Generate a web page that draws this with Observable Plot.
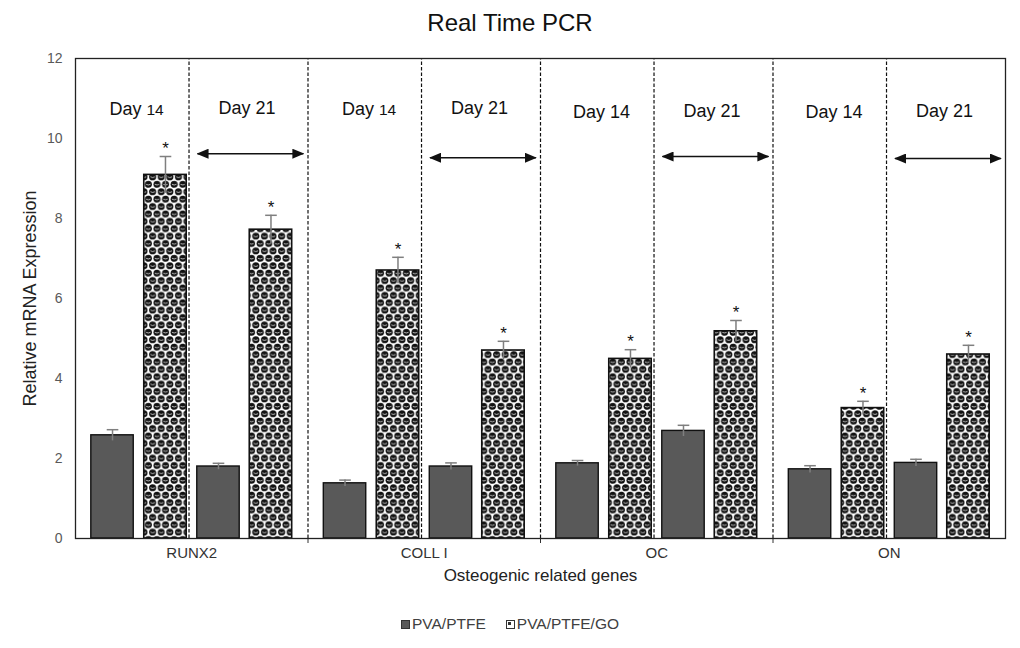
<!DOCTYPE html>
<html>
<head>
<meta charset="utf-8">
<script src="https://cdn.jsdelivr.net/npm/d3@7"></script>
<script src="https://cdn.jsdelivr.net/npm/@observablehq/plot@0.6"></script>
<style>
  html, body { margin: 0; padding: 0; background: white; }
  body { width: 1020px; height: 648px; overflow: hidden; font-family: "Liberation Sans", Arial, sans-serif; }
  #title { height: 37px; padding-top: 3px; line-height: 40px; text-align: center; font-size: 24px; color: #111; }
  #legend { height: 48px; display: flex; justify-content: center; align-items: center; gap: 20px; font-size: 15.5px; color: #404040; padding-left: 0px; }
  #legend span { display: inline-flex; align-items: center; }
  #legend i { display: inline-block; width: 9px; height: 9px; margin-right: 2px; box-sizing: border-box; }
  #legend i.pva { background: #595959; border: 1px solid #333; }
  #legend i.go { background: white; border: 1.5px solid #333; position: relative; }
  #legend i.go::after { content: ""; position: absolute; left: 1.5px; top: 1.5px; width: 3px; height: 3px; background: #333; }
  svg { display: block; }
</style>
</head>
<body>
<div id="title">Real Time PCR</div>
<div id="chart"></div>
<div id="legend"></div>
<script>
// ---- data ----
const genes = ["RUNX2", "COLL I", "OC", "ON"];
const series = ["PVA/PTFE", "PVA/PTFE/GO"];
const days = ["Day 14", "Day 21"];
const pva14 = [2.58, 1.38, 1.88, 1.73];
const pva14Err = [0.14, 0.08, 0.07, 0.09];
const go14 = [9.09, 6.70, 4.49, 3.26];
const go14Err = [0.46, 0.33, 0.23, 0.17];
const pva21 = [1.80, 1.80, 2.69, 1.89];
const pva21Err = [0.08, 0.09, 0.14, 0.09];
const go21 = [7.72, 4.70, 5.18, 4.60];
const go21Err = [0.36, 0.23, 0.27, 0.23];
const arrowLevel = [9.62, 9.52, 9.55, 9.50];
const dayLabelLevel = [10.72, 10.72, 10.66, 10.66];
const yTicks = [0, 2, 4, 6, 8, 10, 12];

// ---- layout in x units (each gene spans 4 units) ----
const G = 4;
const slot = [0.637, 1.548, 2.46, 3.363];
const BW = 0.73;
const CAP = 0.1;

const bars = [];
genes.forEach((gene, i) => {
  [[pva14, pva14Err, 0, 0], [go14, go14Err, 1, 0], [pva21, pva21Err, 0, 1], [go21, go21Err, 1, 1]].forEach(([v, e, s, d], k) => {
    const c = i * G + slot[k];
    bars.push({gene, series: series[s], day: days[d], value: v[i], err: e[i], xc: c, x1: c - BW / 2, x2: c + BW / 2});
  });
});
const pvaBars = bars.filter(d => d.series === series[0]);
const goBars = bars.filter(d => d.series === series[1]);

const boundaries = genes.slice(1).map((g, i) => (i + 1) * G);
const midLines = genes.map((g, i) => i * G + 1.953);
const arrows = genes.map((g, i) => ({gene: g, x1: i * G + 2.1, x2: i * G + 3.92, y: arrowLevel[i]}));
const dayLabels = [];
genes.forEach((g, i) => {
  dayLabels.push({gene: g, text: days[0], x: i * G + 1.05, y: dayLabelLevel[i], smallNum: i < 2});
  dayLabels.push({gene: g, text: days[1], x: i * G + 2.95, y: dayLabelLevel[i] + 0.03, smallNum: false});
});

const plot = Plot.plot({
  width: 1020,
  height: 560,
  marginLeft: 75,
  marginRight: 15,
  marginTop: 18,
  marginBottom: 62,
  style: {fontFamily: "'Liberation Sans', Arial, sans-serif", fontSize: "14px", background: "white", color: "#333"},
  x: {domain: [0, genes.length * G], ticks: boundaries, tickFormat: () => "", tickSize: 5, label: null},
  y: {domain: [0, 12], ticks: yTicks, tickSize: 0, tickPadding: 13, label: null},
  marks: [
    Plot.ruleX(boundaries.concat(midLines), {y1: 0, y2: 12, stroke: "#111", strokeWidth: 1.2, strokeDasharray: "3.5,2"}),
    Plot.rectY(pvaBars, {x1: "x1", x2: "x2", y: "value", fill: "#595959", stroke: "#111", strokeWidth: 1.4, ariaDescription: "pva-bars"}),
    Plot.rectY(goBars, {x1: "x1", x2: "x2", y: "value", fill: "white", stroke: "#111", strokeWidth: 1.6, ariaDescription: "go-bars"}),
    Plot.ruleX(bars, {x: "xc", y1: d => d.value - d.err, y2: d => d.value + d.err, stroke: "#7f7f7f", strokeWidth: 1.5}),
    Plot.link(bars, {x1: d => d.xc - CAP, x2: d => d.xc + CAP, y1: d => d.value + d.err, y2: d => d.value + d.err, stroke: "#7f7f7f", strokeWidth: 1.5}),
    Plot.text(goBars, {x: "xc", y: d => d.value + d.err, text: () => "*", dy: -8, fontSize: 17, fill: "#111"}),
    Plot.link(arrows, {x1: "x1", x2: "x2", y1: "y", y2: "y", stroke: "#111", strokeWidth: 1.6, ariaDescription: "arrows"}),
    Plot.text(dayLabels, {x: "x", y: "y", text: "text", fontSize: 18, fill: "#111", ariaDescription: "day-labels"}),
    Plot.frame({stroke: "#222", strokeWidth: 1.3}),
    Plot.text(genes, {x: (d, i) => i * G + 2, frameAnchor: "bottom", dy: 19, text: d => d, fontSize: 15, fill: "#333"}),
    Plot.text(["Osteogenic related genes"], {frameAnchor: "bottom", dy: 42, text: d => d, fontSize: 17, fill: "#222"}),
    Plot.text(["Relative mRNA Expression"], {frameAnchor: "left", dx: -45, rotate: -90, textAnchor: "middle", text: d => d, fontSize: 18, fill: "#222"})
  ]
});

document.getElementById("chart").appendChild(plot);

const root = plot.tagName.toLowerCase() === "svg" ? plot : plot.querySelector("svg");
const svg = d3.select(root);
const defs = svg.insert("defs", ":first-child");
// "sphere" pattern: staggered black balls with a white highlight
const W = 8.6, H = 14.8;
const pat = defs.append("pattern").attr("id", "sphere").attr("patternUnits", "userSpaceOnUse")
  .attr("width", W).attr("height", H);
pat.append("rect").attr("width", W).attr("height", H).attr("fill", "white");
const balls = [[3 * W / 4, H / 4], [-W / 4, H / 4], [W / 4, 3 * H / 4], [W + W / 4, 3 * H / 4]];
balls.forEach(([cx, cy]) => {
  pat.append("circle").attr("cx", cx).attr("cy", cy).attr("r", 3.55).attr("fill", "#121212");
  pat.append("path").attr("d", `M${cx - 2.2},${cy} Q${cx},${cy + 1.5} ${cx + 2.2},${cy}`)
    .attr("stroke", "white").attr("stroke-width", 0.7).attr("fill", "none");
});

function markGroup(desc) {
  return svg.selectAll("g").filter(function () {
    return this.getAttribute("aria-description") === desc;
  });
}
markGroup("go-bars").attr("fill", "url(#sphere)").selectAll("rect").attr("fill", "url(#sphere)");

const mk = defs.append("marker").attr("id", "ah").attr("viewBox", "0 0 12 10")
  .attr("refX", 11).attr("refY", 5).attr("markerWidth", 12).attr("markerHeight", 10)
  .attr("markerUnits", "userSpaceOnUse").attr("orient", "auto-start-reverse");
mk.append("path").attr("d", "M0,0L12,5L0,10Z").attr("fill", "#111");
markGroup("arrows").selectAll("path").attr("marker-start", "url(#ah)").attr("marker-end", "url(#ah)");

// smaller numerals in the first two "Day 14" labels
markGroup("day-labels").selectAll("text").each(function (d, j) {
  const lab = dayLabels[j];
  if (lab && lab.smallNum) {
    const parts = lab.text.split(" ");
    const t = d3.select(this);
    t.text(null);
    t.append("tspan").text(parts[0] + " ");
    t.append("tspan").attr("font-size", 15.5).text(parts[1]);
  }
});

svg.selectAll("g").filter(function () {
  const a = this.getAttribute("aria-label") || "";
  return a.startsWith("y-axis");
}).selectAll("text").attr("fill", "#595959");

const legend = d3.select("#legend");
series.forEach((s, i) => {
  const item = legend.append("span");
  item.append("i").attr("class", i === 0 ? "pva" : "go");
  item.append("text").text(s);
});
</script>
</body>
</html>
